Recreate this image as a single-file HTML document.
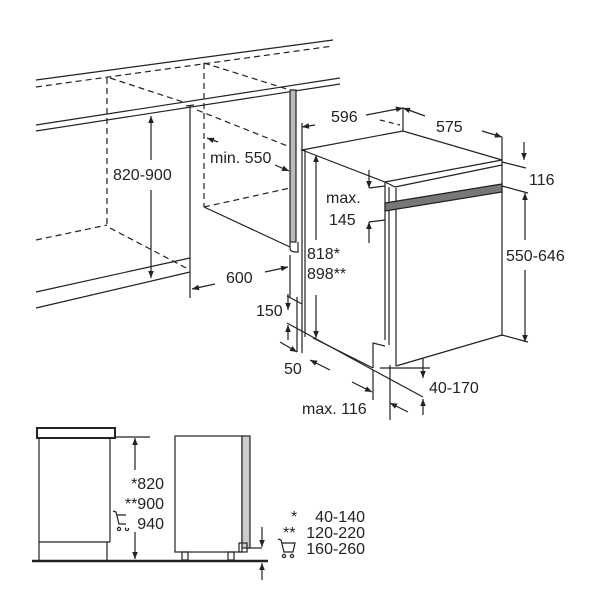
<!DOCTYPE html>
<html><head><meta charset="utf-8"><style>
html,body{margin:0;padding:0;background:#fff}
svg{display:block}
text{font-family:"Liberation Sans",sans-serif;fill:#222;font-size:16px}
</style></head><body>
<svg width="600" height="600" viewBox="0 0 600 600" xmlns="http://www.w3.org/2000/svg">
<defs>
<marker id="a" viewBox="0 0 10 10" refX="10" refY="5" markerWidth="9" markerHeight="7" orient="auto-start-reverse" markerUnits="userSpaceOnUse"><path d="M0,1 L10,5 L0,9 Z" fill="#222"/></marker>
</defs>
<g stroke="#222" stroke-width="1.2" fill="none">
<line x1="36" y1="80" x2="333" y2="40"/>
<line x1="36" y1="87" x2="333" y2="46" stroke-dasharray="6,4"/>
<line x1="36" y1="125" x2="340" y2="78"/>
<line x1="36" y1="131" x2="340" y2="84"/>
<line x1="107" y1="78" x2="107" y2="226" stroke-dasharray="6,4"/>
<line x1="110" y1="78" x2="183" y2="102" stroke-dasharray="6,4"/>
<line x1="36" y1="240" x2="107" y2="225" stroke-dasharray="6,4"/>
<line x1="110" y1="228" x2="190" y2="270" stroke-dasharray="6,4"/>
<line x1="36" y1="292" x2="190" y2="258"/>
<line x1="36" y1="308" x2="190" y2="272"/>
<line x1="190" y1="105" x2="190" y2="298"/>
<line x1="186" y1="106" x2="194" y2="105"/>
<line x1="204" y1="63" x2="204" y2="207" stroke-dasharray="6,4"/>
<line x1="204" y1="63" x2="290" y2="90" stroke-dasharray="6,4"/>
<line x1="197" y1="110" x2="290" y2="147" stroke-dasharray="6,4"/>
<line x1="204" y1="207" x2="290" y2="247"/>
<line x1="204" y1="207" x2="290" y2="188" stroke-dasharray="6,4"/>
<rect x="290" y="90" width="6" height="152" fill="#bbb"/>
<path d="M290,242 L290,248 Q290,252 296,252 L298,252 L298,242"/>
<line x1="290" y1="297" x2="290" y2="255"/>
<line x1="151" y1="116" x2="151" y2="160" marker-start="url(#a)"/>
<line x1="151" y1="190" x2="151" y2="278" marker-end="url(#a)"/>
<line x1="207" y1="138" x2="218" y2="142" marker-start="url(#a)"/>
<line x1="275" y1="165" x2="289" y2="171" marker-end="url(#a)"/>
<line x1="192" y1="289" x2="215" y2="284" marker-start="url(#a)"/>
<line x1="265" y1="272" x2="288" y2="267" marker-end="url(#a)"/>
<line x1="302" y1="123" x2="302" y2="353"/>
<line x1="305" y1="150" x2="305" y2="337"/>
<path d="M302,150 L403,131 L502,160 L385,182 Z"/>
<line x1="403" y1="108" x2="403" y2="131"/>
<line x1="380" y1="120" x2="400" y2="125" stroke-dasharray="5,4"/>
<line x1="302" y1="127" x2="315" y2="125" marker-start="url(#a)"/>
<line x1="366" y1="115" x2="403" y2="108" marker-end="url(#a)"/>
<line x1="403" y1="108" x2="425" y2="116" marker-start="url(#a)"/>
<line x1="482" y1="131" x2="502" y2="137" marker-end="url(#a)"/>
<line x1="502" y1="137" x2="502" y2="336"/>
<line x1="385" y1="182" x2="385" y2="340"/>
<line x1="389" y1="187" x2="389" y2="345"/>
<line x1="396" y1="188" x2="396" y2="366"/>
<line x1="385" y1="182" x2="395" y2="187"/>
<line x1="395" y1="187" x2="502" y2="165"/>
<path d="M385,203 L502,184 L502,192 L385,211 Z" fill="#777"/>
<line x1="396" y1="366" x2="502" y2="335"/>
<line x1="313" y1="338" x2="373" y2="368"/>
<path d="M373,368 L373,343 L385,346"/>
<line x1="287" y1="323" x2="373" y2="370"/>
<line x1="373" y1="370" x2="423" y2="397"/>
<line x1="380" y1="368" x2="430" y2="368"/>
<line x1="390" y1="365" x2="390" y2="420"/>
<line x1="373" y1="370" x2="373" y2="400"/>
<line x1="287" y1="296" x2="302" y2="304"/>
<line x1="297" y1="297" x2="297" y2="352"/>
<line x1="502" y1="162" x2="526" y2="168"/>
<line x1="524" y1="142" x2="524" y2="160" marker-end="url(#a)"/>
<line x1="502" y1="186" x2="528" y2="193"/>
<line x1="502" y1="335" x2="528" y2="342"/>
<line x1="525" y1="193" x2="525" y2="240" marker-start="url(#a)"/>
<line x1="525" y1="270" x2="525" y2="342" marker-end="url(#a)"/>
<line x1="369" y1="170" x2="369" y2="188" marker-end="url(#a)"/>
<line x1="369" y1="188" x2="385" y2="186"/>
<line x1="369" y1="243" x2="369" y2="222" marker-end="url(#a)"/>
<line x1="369" y1="222" x2="385" y2="220"/>
<line x1="316" y1="240" x2="316" y2="155" marker-end="url(#a)"/>
<line x1="316" y1="295" x2="316" y2="338" marker-end="url(#a)"/>
<line x1="423" y1="358" x2="423" y2="378" marker-end="url(#a)"/>
<line x1="423" y1="415" x2="423" y2="399" marker-end="url(#a)"/>
<line x1="288" y1="294" x2="288" y2="310" marker-end="url(#a)"/>
<line x1="288" y1="340" x2="288" y2="325" marker-end="url(#a)"/>
<line x1="280" y1="342" x2="297" y2="352" marker-end="url(#a)"/>
<line x1="330" y1="370" x2="310" y2="360" marker-end="url(#a)"/>
<line x1="352" y1="382" x2="372" y2="392" marker-end="url(#a)"/>
<line x1="408" y1="412" x2="390" y2="403" marker-end="url(#a)"/>
<rect x="37" y="428" width="78" height="10" stroke-width="2"/>
<line x1="39" y1="438" x2="39" y2="560"/>
<line x1="110" y1="438" x2="110" y2="542"/>
<line x1="39" y1="542" x2="110" y2="542"/>
<line x1="107" y1="542" x2="107" y2="560"/>
<line x1="115" y1="437" x2="150" y2="437"/>
<line x1="135" y1="470" x2="135" y2="438" marker-end="url(#a)"/>
<line x1="135" y1="532" x2="135" y2="559" marker-end="url(#a)"/>
<line x1="32" y1="561" x2="268" y2="561" stroke-width="2.5"/>
<rect x="175" y="436" width="67" height="116"/>
<rect x="242" y="436" width="8" height="112" fill="#ccc"/>
<rect x="239" y="543" width="8" height="9"/>
<rect x="182" y="552" width="6" height="8"/>
<rect x="228" y="552" width="6" height="8"/>
<line x1="247" y1="548" x2="262" y2="548"/>
<line x1="262" y1="527" x2="262" y2="547" marker-end="url(#a)"/>
<line x1="262" y1="580" x2="262" y2="563" marker-end="url(#a)"/>
<path d="M113,511 L116,512 L119,524 L129,524 L131,515 L117,515"/>
<circle cx="119" cy="529" r="1.6"/><circle cx="127" cy="529" r="1.6"/>
<path d="M278,539 L281,540 L284,552 L293,552 L295,543 L282,543"/>
<circle cx="284" cy="556" r="1.6"/><circle cx="292" cy="556" r="1.6"/>
</g>
<text x="113" y="180">820-900</text>
<text x="210" y="163">min. 550</text>
<text x="226" y="283">600</text>
<text x="331" y="122">596</text>
<text x="436" y="132">575</text>
<text x="529" y="185">116</text>
<text x="506" y="261">550-646</text>
<text x="326" y="203">max.</text>
<text x="329" y="225">145</text>
<text x="307" y="259">818*</text>
<text x="307" y="279">898**</text>
<text x="256" y="316">150</text>
<text x="284" y="374">50</text>
<text x="429" y="393">40-170</text>
<text x="302" y="414">max. 116</text>
<rect x="126" y="474" width="40" height="54" fill="#fff"/>
<text x="164" y="489" text-anchor="end">*820</text>
<text x="164" y="509" text-anchor="end">**900</text>
<text x="164" y="529" text-anchor="end">940</text>
<text x="365" y="522" text-anchor="end">40-140</text>
<text x="291" y="522">*</text>
<text x="365" y="538" text-anchor="end">120-220</text>
<text x="283" y="538">**</text>
<text x="365" y="554" text-anchor="end">160-260</text>
</svg>
</body></html>
